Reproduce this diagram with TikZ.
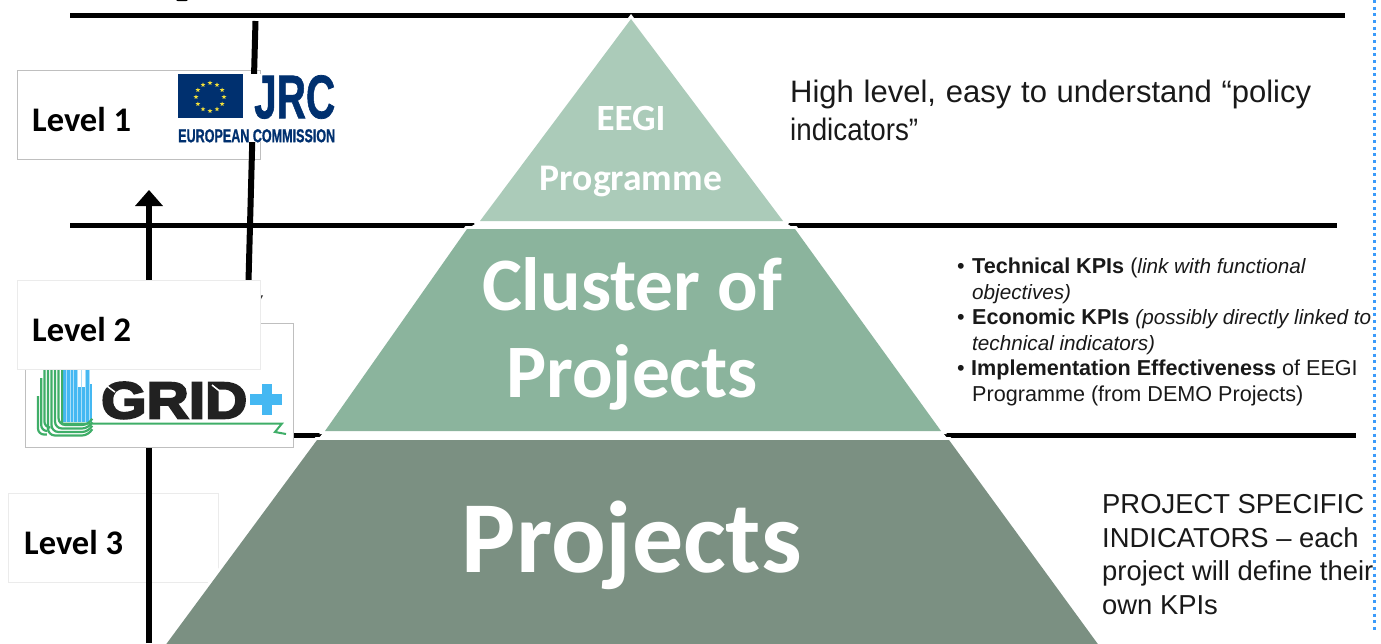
\documentclass[tikz,border=0pt]{standalone}
\usepackage{fontspec}
\usepackage{graphicx}
\usetikzlibrary{shapes.geometric}
\setmainfont{Carlito}
\newfontfamily\arialf{Liberation Sans}
\newfontfamily\gridf[FakeBold=4]{Liberation Sans}
\newfontfamily\logof[FakeBold=1.2]{Liberation Sans}
\definecolor{pyrA}{HTML}{ABCBB9}
\definecolor{pyrB}{HTML}{8BB49D}
\definecolor{pyrC}{HTML}{7B9082}
\definecolor{eunavy}{HTML}{00306F}
\definecolor{euyellow}{HTML}{F4E03A}
\definecolor{gridgreen}{HTML}{3FAE68}
\definecolor{gridblue}{HTML}{45B8F2}
\definecolor{dotblue}{HTML}{3B9BFA}
\newcommand{\itsmall}[1]{{\fontsize{20.7}{20.7}\selectfont\textit{#1}}}
\tikzset{
  rule/.style={line width=5.5pt,black},
  lvlbox/.style={draw=#1,fill=white,line width=0.8pt},
  lvltext/.style={font=\fontsize{34.5}{34.5}\selectfont\bfseries,anchor=base west,inner sep=0pt},
  pyrtext/.style={font=\bfseries,text=white,anchor=base,inner sep=0pt},
  bodytext/.style={font=\arialf,anchor=base west,inner sep=0pt,text=black!90},
  tier/.style={fill=#1,preaction={draw=white,line width=6pt,line join=miter,miter limit=10}},
  greenline/.style={gridgreen,line width=2.2pt},
}
\begin{document}
\begin{tikzpicture}[x=1pt,y=-1pt]
\useasboundingbox (0,0) rectangle (1381,643);
\fill[white] (0,0) rectangle (1381,643);
% rules
\coordinate (r1a) at (70,15.5); \coordinate (r1b) at (1345,15.5);
\coordinate (r2a) at (70,225.5); \coordinate (r2b) at (1337,225.5);
\coordinate (r3a) at (70,435.5); \coordinate (r3b) at (1356,435.5);
\draw[rule] (r1a) -- (r1b);
\draw[rule] (r2a) -- (r2b);
\draw[rule] (r3a) -- (r3b);
% clipped descender at top
\fill[black] (176,0) -- (188,0) -- (186,1.2) -- (178,1.2) -- cycle;
% level 3 box lies under the pyramid
\node[lvlbox=black!8,minimum width=210pt,minimum height=89pt,inner sep=0pt,anchor=north west] (l3) at (8,493) {};
\draw[line width=6pt] (149,582) -- (149,643);
% pyramid
\begin{scope}
\clip (0,0) rectangle (1381,643);
\fill[white] (480,221) -- (783,221) -- (795,229) -- (467,229) -- cycle;
\fill[white] (325,431) -- (941,431) -- (949,440) -- (317,440) -- cycle;
\path[tier=pyrC] (317,440) -- (949,440) -- (1109.5,660) -- (154.5,660) -- cycle;
\path[tier=pyrB] (467,229) -- (795,229) -- (941,431) -- (325,431) -- cycle;
\path[tier=pyrA] (631,19) -- (783,221) -- (480,221) -- cycle;
\end{scope}
\node[pyrtext,font=\fontsize{37}{37}\selectfont\bfseries] (eegi) at (631,130) {EEGI};
\node[pyrtext,font=\fontsize{37.6}{37.6}\selectfont\bfseries] (prog) at (631,190) {Programme};
\node[pyrtext,font=\fontsize{75.5}{75.5}\selectfont\bfseries] (clus) at (632,310) {Cluster of};
\node[pyrtext,font=\fontsize{75.5}{75.5}\selectfont\bfseries] (proj) at (632,397) {Projects};
\node[pyrtext,font=\fontsize{102}{102}\selectfont\bfseries] (projs) at (632,572) {Projects};
% level 1 box and connectors
\node[lvlbox=black!25,minimum width=243pt,minimum height=89pt,inner sep=0pt,anchor=north west] (l1) at (17,70) {};
\coordinate (v1) at (255.5,21);
\coordinate (v2) at (248,300);
\draw[line width=6pt] (v1) -- (v2);
\coordinate (ar0) at (149,643);
\coordinate (ar1) at (149,205);
\draw[line width=6pt] (ar0) -- (ar1);
\fill[black] (149,190) -- (163,206) -- (135,206) -- cycle;
\fill[black!80] (259,295) -- (263,295.5) -- (261,299) -- cycle;
% JRC logo
\fill[white] (178,74) rectangle (335,142);
\fill[eunavy] (178,74) rectangle (243,117.5);
\foreach \a in {0,30,...,330}
  \node[star,star points=5,star point ratio=2.4,fill=euyellow,inner sep=0pt,minimum size=5pt] at ({210+14*cos(\a)},{97+14*sin(\a)}) {};
\node[anchor=north west,inner sep=0pt,text=eunavy] (jrc) at (254,75) {\resizebox{81pt}{43pt}{\logof\bfseries JRC}};
\node[anchor=north west,inner sep=0pt,text=eunavy] (ec) at (178,129) {\resizebox{157pt}{13pt}{\logof\bfseries EUROPEAN COMMISSION}};
\node[lvltext] (t1) at (32,131) {Level 1};
% level 2 / grid logo
\node[lvlbox=black!25,minimum width=268pt,minimum height=124pt,inner sep=0pt,anchor=north west] (gridbox) at (25,323) {};
\node[lvlbox=black!8,minimum width=243pt,minimum height=89pt,inner sep=0pt,anchor=north west] (l2) at (17,280) {};
\fill[white] (25.5,323.5) rectangle (260,369);
\begin{scope}
\clip (26,369.5) rectangle (293,446);
% blue towers
\fill[gridblue] (63,370) rectangle (78,422);
\fill[gridblue] (78,387) rectangle (85,422);
\fill[gridblue] (85,370) rectangle (89,422);
\fill[gridblue] (89,384) rectangle (92,422);
\foreach \x in {66.5,70,73.5,77,81,85,89} \draw[gridblue!45!white,line width=0.8pt] (\x,370) -- (\x,422);
% green, right-hand group
\foreach \x/\b in {48/435.5,51.5/432,55/428.5,58.5/425}
  \draw[greenline,rounded corners=7pt] (\x,370) -- (\x,\b) -- (89,\b) -- (91.5,{\b-5});
\draw[greenline,line width=2pt] (62,370) -- (62,423.5) -- (282,423.5) -- (275,432) -- (286,434);
% green, left-hand group
\foreach \x/\t/\b in {38/396/434.5,41.2/378/431,44.4/370/427.5}
  \draw[greenline,rounded corners=6pt] (\x,\t) -- (\x,\b) -- (46.8,\b);
\end{scope}
\node[anchor=north west,inner sep=0pt,text=black!87] (grid) at (101,382) {\resizebox{146pt}{36pt}{\gridf\bfseries GRID}};
\draw[white,line width=1.5pt] (103,383) -- (115,392);
\draw[white,line width=1.5pt] (212,385) -- (222,393);
\fill[gridblue] (262,383.5) rectangle (272,414.5);
\fill[gridblue] (250,394) rectangle (281.5,405);
\node[lvltext] (t2) at (32,341) {Level 2};
\node[lvltext] (t3) at (24,554) {Level 3};
% right text
\node[bodytext,font=\arialf\fontsize{31}{31}\selectfont] (h1) at (790,102) {\makebox[521pt][s]{High level, easy to understand “policy}};
\node[bodytext,font=\arialf\fontsize{31}{31}\selectfont] (h2) at (790,140) {\scalebox{0.895}[1]{indicators”}};
\begin{scope}[every node/.style={bodytext,font=\arialf\fontsize{21.6}{21.6}\selectfont}]
\node at (957,273) {•};
\node at (972,273) {\textbf{Technical KPIs} (\itsmall{link with functional}};
\node at (972,299) {\itsmall{objectives)}};
\node at (957,324) {•};
\node at (972,324) {\textbf{Economic KPIs} \itsmall{(possibly directly linked to}};
\node at (972,350) {\itsmall{technical indicators)}};
\node at (957,375) {•};
\node at (971,375) {\textbf{Implementation Effectiveness} of EEGI};
\node at (972,401) {Programme (from DEMO Projects)};
\end{scope}
\begin{scope}[every node/.style={bodytext,font=\arialf\fontsize{27.4}{27.4}\selectfont}]
\node at (1102,513) {PROJECT SPECIFIC};
\node at (1102,547) {INDICATORS – each};
\node at (1102,580) {project will define their};
\node at (1102,614) {own KPIs};
\end{scope}
% dotted margin line
\coordinate (d0) at (1374.5,0); \coordinate (d1) at (1374.5,632);
\draw[dotblue,line width=3pt,dash pattern=on 3pt off 3.67pt] (d0) -- (d1);
\end{tikzpicture}
\end{document}
